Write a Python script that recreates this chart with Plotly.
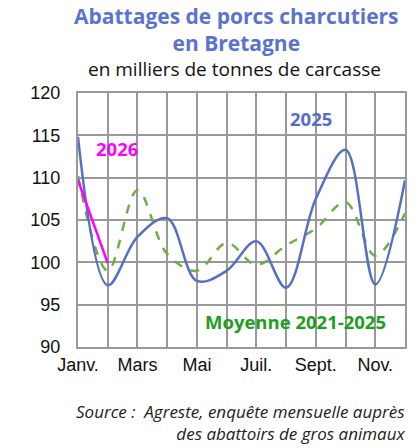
import plotly.graph_objects as go

months = ["Janv.", "Févr.", "Mars", "Avr.", "Mai", "Juin", "Juil.", "Août", "Sept.", "Oct.", "Nov.", "Déc."]
tick_labels = ["Janv.", "", "Mars", "", "Mai", "", "Juil.", "", "Sept.", "", "Nov.", ""]
serie_2025 = [114.8, 97.3, 103.0, 105.2, 97.8, 99.0, 102.5, 97.0, 107.5, 113.3, 97.4, 109.7]
moyenne_2021_2025 = [110.2, 99.0, 108.5, 101.0, 99.0, 102.3, 99.7, 102.0, 104.0, 107.1, 100.8, 105.8]
serie_2026 = [109.7, 99.9]

x_all = list(range(1, 13))

fig = go.Figure()
fig.add_trace(go.Scatter(x=x_all, y=moyenne_2021_2025, mode="lines",
                         line=dict(color="#70AD47", width=2.5, dash="dash", shape="spline", smoothing=1),
                         name="Moyenne 2021-2025"))
fig.add_trace(go.Scatter(x=x_all, y=serie_2025, mode="lines",
                         line=dict(color="#5470C6", width=2.5, shape="spline", smoothing=1),
                         name="2025"))
fig.add_trace(go.Scatter(x=x_all[:len(serie_2026)], y=serie_2026, mode="lines",
                         line=dict(color="#FF00FF", width=2.5),
                         name="2026"))

fig.update_layout(
    width=419, height=448,
    margin=dict(l=78, r=14, t=93, b=101, autoexpand=False),
    paper_bgcolor="white", plot_bgcolor="white",
    showlegend=False,
    font=dict(family="Liberation Sans, Arial", size=18, color="#111"),
)
fig.update_xaxes(range=[1, 12], tickvals=x_all, ticktext=tick_labels,
                 showgrid=True, gridcolor="#999999", gridwidth=2,
                 showline=True, linecolor="#999999", linewidth=2, mirror=True,
                 ticks="", zeroline=False, tickfont=dict(size=18), automargin=False)
fig.update_yaxes(range=[90, 120], dtick=5, tick0=90,
                 showgrid=True, gridcolor="#999999", gridwidth=2,
                 showline=True, linecolor="#999999", linewidth=2, mirror=True,
                 ticks="", zeroline=False, tickfont=dict(size=18), ticklabelstandoff=12,
                 automargin=False)

title_font = "Open Sans, sans-serif"
fig.add_annotation(text="<b>Abattages de porcs charcutiers<br>en Bretagne</b>",
                   xref="paper", yref="paper", x=0.5, y=1, xanchor="center", yanchor="bottom",
                   xshift=-5, yshift=34,
                   font=dict(family=title_font, size=21, color="#5B73D0"), showarrow=False)
fig.add_annotation(text="en milliers de tonnes de carcasse",
                   xref="paper", yref="paper", x=0.5, y=1, xanchor="center", yanchor="bottom",
                   xshift=-7, yshift=9,
                   font=dict(family=title_font, size=19, color="#111"), showarrow=False)
fig.add_annotation(text="<b>2026</b>", x=2.3, y=113.4, showarrow=False,
                   font=dict(family=title_font, size=18.5, color="#FF00FF"))
fig.add_annotation(text="<b>2025</b>", x=8.85, y=117.0, showarrow=False,
                   font=dict(family=title_font, size=18.5, color="#5470C6"))
fig.add_annotation(text="<b>Moyenne 2021-2025</b>", x=8.3, y=93.0, showarrow=False,
                   font=dict(family=title_font, size=18.5, color="#1E9E1E"))
fig.add_annotation(text="<i>Source :  Agreste, enquête mensuelle auprès<br>des abattoirs de gros animaux</i>",
                   xref="paper", yref="paper", x=1, y=0, xanchor="right", yanchor="top",
                   xshift=2, yshift=-51, align="right",
                   font=dict(family=title_font, size=17, color="#222"), showarrow=False)

fig.write_html("out.html", config={"displayModeBar": False},
               post_script="document.body.style.margin='0';document.body.style.padding='0';document.documentElement.style.overflow='hidden';")
